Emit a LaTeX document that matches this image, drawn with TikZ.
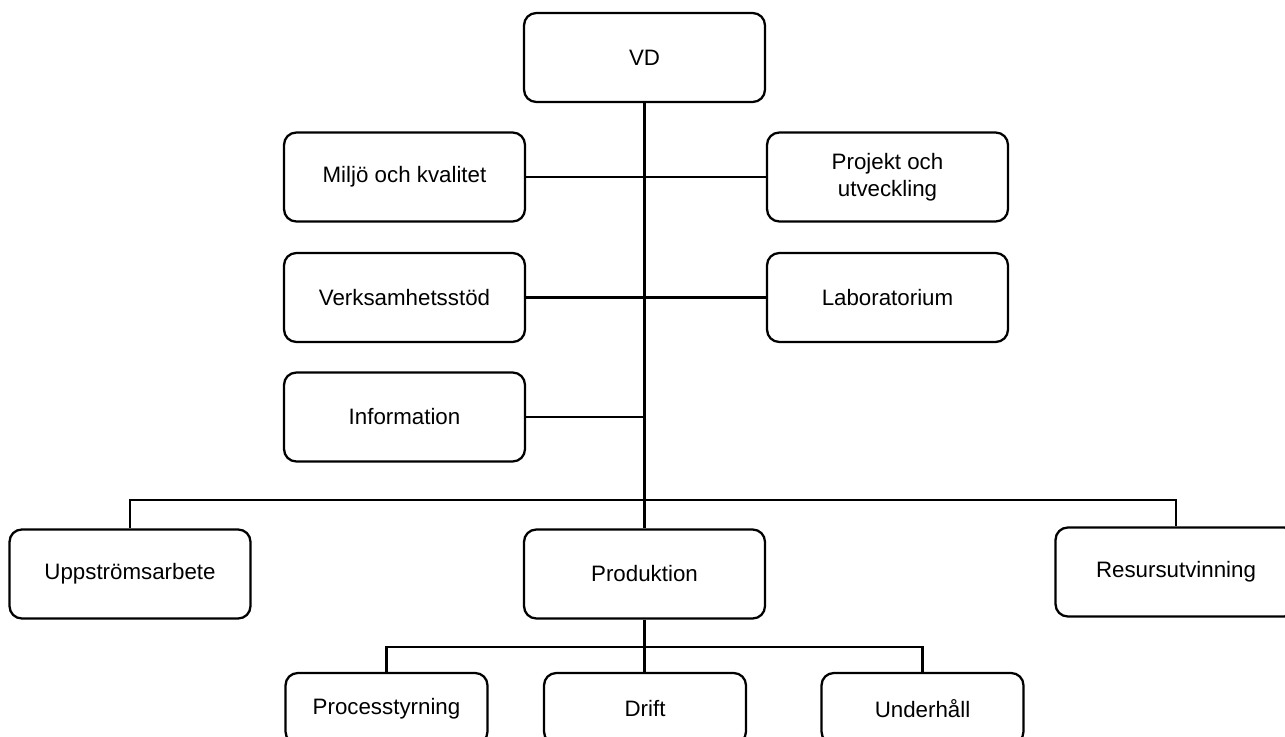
\documentclass[tikz,border=0pt]{standalone}
\usepackage{fontspec}
\setmainfont{Liberation Sans}
\usetikzlibrary{positioning}

\begin{document}
\begin{tikzpicture}[x=0.02cm,y=-0.02cm,
  box/.style={draw,line width=1.3pt,rounded corners=7pt,minimum width=4.82cm,minimum height=1.78cm,align=center,inner sep=2pt,font=\fontsize{12.7}{15.3}\selectfont},
  subbox/.style={box,minimum width=4.04cm,minimum height=1.42cm},
  link/.style={line width=1.4pt}]
\useasboundingbox (0,0) rectangle (1285,737);
\clip (0,0) rectangle (1285,737);

% Top
\node[box] (vd) at (644.5,57.5) {VD};

% Staff units
\node[box] (miljo) at (404.5,177) {Miljö och kvalitet};
\node[box] (projekt) at (887.5,177) {Projekt och\\utveckling};
\node[box] (verksamhet) at (404.5,297.5) {Verksamhetsstöd};
\node[box] (lab) at (887.5,297.5) {Laboratorium};
\node[box] (info) at (404.5,417) {Information};

% Line units
\node[box] (uppstrom) at (130,574) {Uppströmsarbete};
\node[box] (prod) at (644.5,574) {Produktion};
\node[box] (resurs) at (1176,572) {Resursutvinning};

% Under Produktion
\node[subbox] (process) at (386.5,708.5) {Processtyrning};
\node[subbox] (drift) at (645,708.5) {Drift};
\node[subbox] (underhall) at (922.5,708.5) {Underhåll};

% Junctions
\coordinate (split) at (644.5,500);
\coordinate (subsplit) at (644.5,647);

% Connectors
\draw[link] (vd) -- (split);
\draw[link] (miljo) -- (projekt);
\draw[link] (verksamhet) -- (lab);
\draw[link] (info.east) -- (info.east -| split);
\draw[link] (uppstrom.north) |- (split) -| (resurs.north);
\draw[link] (split) -- (prod);
\draw[link] (prod.south) -- (prod.south |- drift.north);
\draw[link] (process.north) |- (subsplit) -| (underhall.north);
\end{tikzpicture}
\end{document}
